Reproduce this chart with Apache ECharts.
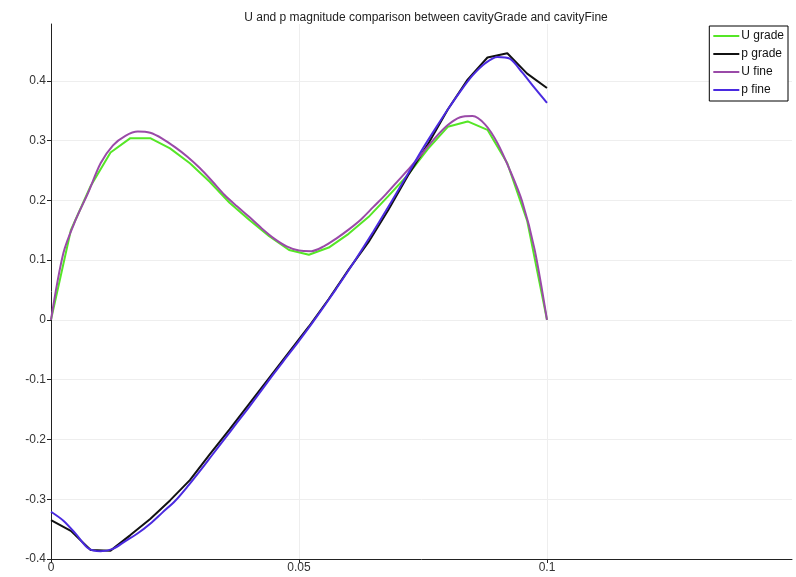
<!DOCTYPE html>
<html>
<head>
<meta charset="utf-8">
<script src="https://cdn.jsdelivr.net/npm/echarts@6/dist/echarts.min.js"></script>
<style>
  html, body { margin: 0; padding: 0; background: #fff; }
  #chart { width: 796px; height: 577px; }
</style>
</head>
<body>
<div id="chart"></div>
<script>
// Sample positions along the line (coarse mesh: 0.004 spacing, fine mesh: 0.0025 spacing)
const xGrade = [0, 0.004, 0.008, 0.012, 0.016, 0.020, 0.024, 0.028, 0.032, 0.036, 0.040, 0.044, 0.048,
  0.052, 0.056, 0.060, 0.064, 0.068, 0.072, 0.076, 0.080, 0.084, 0.088, 0.092, 0.096, 0.100];
const xFine = [0, 0.0025, 0.005, 0.0075, 0.01, 0.0125, 0.015, 0.0175, 0.02, 0.0225, 0.025, 0.0275, 0.03,
  0.0325, 0.035, 0.0375, 0.04, 0.0425, 0.045, 0.0475, 0.05, 0.0525, 0.055, 0.0575, 0.06, 0.0625, 0.065,
  0.0675, 0.07, 0.0725, 0.075, 0.0775, 0.08, 0.0825, 0.085, 0.0875, 0.09, 0.0925, 0.095, 0.0975, 0.1];

// Velocity magnitude and pressure, coarse mesh
const uGrade = [0, 0.150, 0.224, 0.280, 0.304, 0.304, 0.287, 0.262, 0.231, 0.196, 0.167, 0.140, 0.117,
  0.109, 0.121, 0.144, 0.172, 0.207, 0.243, 0.286, 0.323, 0.332, 0.318, 0.262, 0.166, 0];
const pGrade = [-0.335, -0.353, -0.385, -0.386, -0.360, -0.333, -0.302, -0.268, -0.225, -0.183, -0.140,
  -0.097, -0.054, -0.011, 0.035, 0.084, 0.130, 0.184, 0.242, 0.294, 0.352, 0.402, 0.439, 0.446, 0.412, 0.388];

// Velocity magnitude and pressure, fine mesh
const uFine = [0, 0.112, 0.168, 0.213, 0.262, 0.292, 0.308, 0.315, 0.313, 0.303, 0.289, 0.273, 0.254,
  0.232, 0.209, 0.190, 0.172, 0.153, 0.136, 0.123, 0.116, 0.115, 0.123, 0.136, 0.151, 0.168, 0.189,
  0.210, 0.233, 0.256, 0.280, 0.305, 0.326, 0.339, 0.341, 0.327, 0.296, 0.251, 0.198, 0.118, 0];
const pFine = [-0.321, -0.336, -0.358, -0.382, -0.387, -0.383, -0.370, -0.357, -0.341, -0.322, -0.303,
  -0.279, -0.253, -0.226, -0.199, -0.172, -0.145, -0.117, -0.089, -0.062, -0.035, -0.007, 0.022, 0.052,
  0.083, 0.115, 0.148, 0.182, 0.217, 0.252, 0.287, 0.320, 0.352, 0.382, 0.409, 0.429, 0.440, 0.437,
  0.414, 0.388, 0.363];

const seriesNames = ['U grade', 'p grade', 'U fine', 'p fine'];
const seriesColors = ['#55e626', '#111111', '#9a4aa8', '#4a2ae0'];
// Coarse-mesh curves are drawn as straight segments, fine-mesh curves slightly smoothed
const seriesSmooth = [false, false, 0.3, 0.3];

function pairs(xs, ys) { return xs.map((x, i) => [x, ys[i]]); }

const lines = [
  pairs(xGrade, uGrade),
  pairs(xGrade, pGrade),
  pairs(xFine, uFine),
  pairs(xFine, pFine)
];

const font = 'Liberation Sans, Arial, sans-serif';
const chart = echarts.init(document.getElementById('chart'));
chart.setOption({
  animation: false,
  backgroundColor: '#fff',
  title: {
    text: 'U and p magnitude comparison between cavityGrade and cavityFine',
    left: 421, top: 7, textAlign: 'center',
    textStyle: { fontFamily: font, fontSize: 12, fontWeight: 'normal', color: '#222' }
  },
  legend: {
    data: seriesNames,
    orient: 'vertical', right: 8, top: 26,
    backgroundColor: '#fff', borderColor: '#000', borderWidth: 1,
    padding: [4, 4, 5, 4], itemGap: 6,
    icon: 'rect', itemWidth: 26, itemHeight: 2,
    textStyle: { fontFamily: font, fontSize: 12, color: '#111', padding: [0, 0, 0, -3] }
  },
  grid: { left: 51, right: 4, top: 24, bottom: 18, outerBoundsMode: 'none', containLabel: false },
  xAxis: {
    type: 'value', min: 0, max: 0.1494, interval: 0.05,
    axisLine: { show: true, onZero: false, lineStyle: { color: '#222', width: 1 } },
    axisTick: { show: true, length: 4, lineStyle: { color: '#222' } },
    axisLabel: { fontFamily: font, fontSize: 12, color: '#333', margin: 3, showMaxLabel: false },
    splitLine: { show: true, showMaxLine: false, lineStyle: { color: '#eeeeee' } }
  },
  yAxis: {
    type: 'value', min: -0.4, max: 0.495, interval: 0.1,
    axisLine: { show: true, onZero: false, lineStyle: { color: '#222', width: 1 } },
    axisTick: { show: true, length: 4, lineStyle: { color: '#222' } },
    axisLabel: { fontFamily: font, fontSize: 12, color: '#333', margin: 5, showMaxLabel: false },
    splitLine: { show: true, showMaxLine: false, lineStyle: { color: '#eeeeee' } }
  },
  series: seriesNames.map((name, i) => ({
    name: name,
    type: 'line',
    data: lines[i],
    symbol: 'none',
    smooth: seriesSmooth[i],
    color: seriesColors[i],
    lineStyle: { color: seriesColors[i], width: 2 },
    z: 2 + i
  }))
});
</script>
</body>
</html>
